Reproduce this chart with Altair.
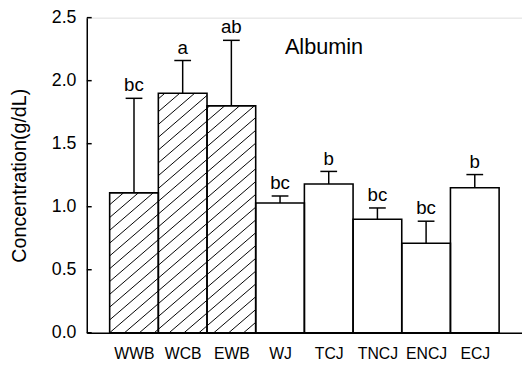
import json
import altair as alt
import pandas as pd

categories = ["WWB", "WCB", "EWB", "WJ", "TCJ", "TNCJ", "ENCJ", "ECJ"]
means = [1.11, 1.90, 1.80, 1.03, 1.18, 0.90, 0.71, 1.15]
errors = [0.75, 0.26, 0.52, 0.055, 0.10, 0.09, 0.175, 0.105]
letters = ["bc", "a", "ab", "bc", "b", "bc", "bc", "b"]
hatched = [True, True, True, False, False, False, False, False]
y_ticks = [0.0, 0.5, 1.0, 1.5, 2.0, 2.5]
panel_label = ["Albumin"]

W, H = 442, 320
X_DOMAIN = [-0.47, 8.47]
Y_DOMAIN = [0, 2.5]

df = pd.DataFrame({
    "idx": list(range(len(categories))),
    "cat": categories,
    "mean": means,
    "err": errors,
    "letter": letters,
    "hatched": hatched,
})

# hatch segments clipped to the hatched bars (derived from the bar values)
step_px = W / (X_DOMAIN[1] - X_DOMAIN[0])
ypx = H / (Y_DOMAIN[1] - Y_DOMAIN[0])
k = 0.86 * step_px / ypx          # slope in data units
d = 13.0 / ypx                    # vertical spacing in data units
segs = []
for i, (v, h) in enumerate(zip(means, hatched)):
    if not h:
        continue
    m_lo = int((-k * (i + 1)) / d) - 2
    m_hi = int((v - k * i) / d) + 2
    for m in range(m_lo, m_hi + 1):
        c = m * d
        x_lo = max(i, (0 - c) / k)
        x_hi = min(i + 1, (v - c) / k)
        if x_hi - x_lo > 1e-3:
            segs.append({"x": x_lo, "x2": x_hi, "y": k * x_lo + c, "y2": k * x_hi + c})
hatch_df = pd.DataFrame(segs)

xscale = alt.Scale(domain=X_DOMAIN, nice=False, zero=False)
yscale = alt.Scale(domain=Y_DOMAIN, nice=False)

label_expr = json.dumps(categories) + "[round(datum.value - 0.5)]"

base = alt.Chart(df).transform_calculate(
    x1="datum.idx", x2="datum.idx + 1", xc="datum.idx + 0.5",
    capl="datum.idx + 0.5 - 0.172", capr="datum.idx + 0.5 + 0.172",
    top="datum.mean + datum.err",
)

bars_fill = base.mark_bar(fill="white", stroke=None).encode(
    x=alt.X("x1:Q", scale=xscale,
            axis=alt.Axis(values=[i + 0.5 for i in range(len(categories))],
                          labelExpr=label_expr, title=None, grid=False, ticks=False,
                          domainColor="black", domainWidth=1.5,
                          labelFont="Liberation Sans", labelFontSize=16,
                          labelColor="black", labelPadding=13)),
    x2="x2:Q",
    y=alt.Y("mean:Q", scale=yscale,
            axis=alt.Axis(values=y_ticks, format=".1f", title="Concentration(g/dL)",
                          grid=False, tickSize=0, domainColor="black", domainWidth=1.5,
                          labelFont="Liberation Sans", labelFontSize=18, labelColor="black",
                          labelPadding=11, titleFont="Liberation Sans", titleFontSize=20,
                          titleFontWeight="normal", titleColor="black", titlePadding=22)),
    y2=alt.datum(0),
)

hatch = alt.Chart(hatch_df).mark_rule(color="black", strokeWidth=1).encode(
    x=alt.X("x:Q", scale=xscale), x2="x2:Q",
    y=alt.Y("y:Q", scale=yscale), y2="y2:Q",
)

bars_outline = base.mark_bar(fill=None, stroke="black", strokeWidth=1.6).encode(
    x=alt.X("x1:Q", scale=xscale), x2="x2:Q",
    y=alt.Y("mean:Q", scale=yscale), y2=alt.datum(0),
)

err_stem = base.mark_rule(color="black", strokeWidth=1.5).encode(
    x=alt.X("xc:Q", scale=xscale), y=alt.Y("mean:Q", scale=yscale), y2="top:Q",
)
err_cap = base.mark_rule(color="black", strokeWidth=1.5).encode(
    x=alt.X("capl:Q", scale=xscale), x2="capr:Q", y=alt.Y("top:Q", scale=yscale),
)
letter_text = base.mark_text(font="Liberation Sans", fontSize=19, baseline="bottom",
                             dy=-3, color="black").encode(
    x=alt.X("xc:Q", scale=xscale), y=alt.Y("top:Q", scale=yscale), text="letter:N",
)

ytick_df = pd.DataFrame({"v": y_ticks})
yticks = alt.Chart(ytick_df).mark_rule(color="black", strokeWidth=1.5).encode(
    y=alt.Y("v:Q", scale=yscale), x=alt.value(0), x2=alt.value(5),
)

ann_df = pd.DataFrame({"t": panel_label, "x": [3.6], "y": [2.27]})
ann = alt.Chart(ann_df).mark_text(font="Liberation Sans", fontSize=22, align="left",
                                  baseline="middle", color="black").encode(
    x=alt.X("x:Q", scale=xscale), y=alt.Y("y:Q", scale=yscale), text="t:N",
)

chart = alt.layer(bars_fill, hatch, bars_outline, err_stem, err_cap, letter_text,
                  yticks, ann).properties(
    width=W, height=H,
    autosize=alt.AutoSizeParams(type="none"),
    padding={"left": 80, "top": 7, "right": 0, "bottom": 33},
).configure_view(stroke=None).configure(background="white")

chart.save("out.html", embed_options={"renderer": "svg", "actions": False})
